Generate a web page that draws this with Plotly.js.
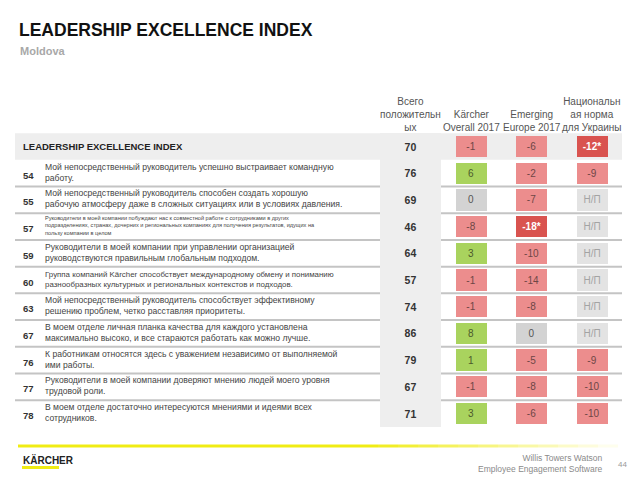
<!DOCTYPE html>
<html>
<head>
<meta charset="utf-8">
<script src="https://cdn.plot.ly/plotly-3.0.1.min.js"></script>
<style>html,body{margin:0;padding:0;background:#fff;}#chart{width:640px;height:480px;}</style>
</head>
<body>
<div id="chart"></div>
<script>
// ---------------- DATA ----------------
const rows = ['LEI', '54', '55', '57', '59', '60', '63', '67', '76', '77', '78'];
const rowLabels = [
  'LEADERSHIP EXCELLENCE INDEX',
  'Мой непосредственный руководитель успешно выстраивает командную<br>работу.',
  'Мой непосредственный руководитель способен создать хорошую<br>рабочую атмосферу даже в сложных ситуациях или в условиях давления.',
  'Руководители в моей компании побуждают нас к совместной работе с сотрудниками в других<br>подразделениях, странах, дочерних и региональных компаниях для получения результатов, идущих на<br>пользу компании в целом',
  'Руководители в моей компании при управлении организацией<br>руководствуются правильным глобальным подходом.',
  'Группа компаний Kärcher способствует международному обмену и пониманию<br>разнообразных культурных и региональных контекстов и подходов.',
  'Мой непосредственный руководитель способствует эффективному<br>решению проблем, четко расставляя приоритеты.',
  'В моем отделе личная планка качества для каждого установлена<br>максимально высоко, и все стараются работать как можно лучше.',
  'К работникам относятся здесь с уважением независимо от выполняемой<br>ими работы.',
  'Руководители в моей компании доверяют мнению людей моего уровня<br>трудовой роли.',
  'В моем отделе достаточно интересуются мнениями и идеями всех<br>сотрудников.'
];
const totalPositive = [70, 76, 69, 46, 64, 57, 74, 86, 79, 67, 71];
const kaercherDiff  = ['-1', '6', '0', '-8', '3', '-1', '-1', '8', '1', '-1', '3'];
const emergingDiff  = ['-6', '-2', '-7', '-18*', '-10', '-14', '-8', '0', '-5', '-8', '-6'];
const ukraineDiff   = ['-12*', '-9', null, null, null, null, null, null, '-9', '-10', '-10'];
const columnHeaders = [
  'Всего<br>положительн<br>ых',
  'Kärcher<br>Overall 2017',
  'Emerging<br>Europe 2017',
  'Национальн<br>ая норма<br>для Украины'
];
const naLabel = 'Н/П';

// ---------------- STYLE ----------------
const FONT = 'Liberation Sans, Arial, sans-serif';
const COL_SPACING = 60.5, COL0_PX = 410.5;
const ROW_SPACING = 26.7, ROW0_PX = 146.5;
const BOX_W = 31 / COL_SPACING;
const BOX_H = 21.3 / ROW_SPACING;
const C = {
  neg: '#ec8d8d', negText: '#6e4646',
  sig: '#d9534f', sigText: '#ffffff',
  pos: '#a9d35e', posText: '#4b5a2c',
  zero: '#d3d3d3', zeroText: '#555555',
  na: '#e3e3e3', naText: '#a3a3a3',
  band: '#eeeeee'
};
const px = x => x / 640;
const py = y => 1 - y / 480;

function styleFor(label) {
  if (label === null) return {fill: C.na, txt: C.naText, text: naLabel};
  const v = parseFloat(label);
  const sig = label.indexOf('*') >= 0;
  if (sig) return {fill: C.sig, txt: C.sigText, text: '<b>' + label + '</b>'};
  if (v < 0) return {fill: C.neg, txt: C.negText, text: label};
  if (v > 0) return {fill: C.pos, txt: C.posText, text: label};
  return {fill: C.zero, txt: C.zeroText, text: label};
}

const traces = [];
// total positive column (gray band)
traces.push({
  type: 'bar', orientation: 'h', y: rows,
  x: rows.map(() => 61 / COL_SPACING), base: 0 - 61 / COL_SPACING / 2, width: 1.0,
  marker: {color: C.band, line: {width: 0}},
  text: totalPositive.map(v => '<b>' + v + '</b>'),
  textposition: 'inside', insidetextanchor: 'middle', textangle: 0,
  textfont: {family: FONT, size: 10.5, color: '#333333'},
  constraintext: 'none', hoverinfo: 'skip', showlegend: false
});
[kaercherDiff, emergingDiff, ukraineDiff].forEach((arr, k) => {
  const j = k + 1;
  const st = arr.map(styleFor);
  traces.push({
    type: 'bar', orientation: 'h', y: rows,
    x: rows.map(() => BOX_W), base: j - BOX_W / 2, width: BOX_H,
    marker: {color: st.map(s => s.fill), line: {width: 0}},
    text: st.map(s => s.text),
    textposition: 'inside', insidetextanchor: 'middle', textangle: 0,
    textfont: {family: FONT, size: 10, color: st.map(s => s.txt)},
    constraintext: 'none', hoverinfo: 'skip', showlegend: false
  });
});

const shapes = [];
// LEI row background
shapes.push({type: 'rect', layer: 'below', xref: 'paper', yref: 'y',
  x0: px(15), x1: px(622), y0: -0.5, y1: 0.5, fillcolor: C.band, line: {width: 0}});
// separators
for (let i = 1; i < rows.length - 1; i++) {
  shapes.push({type: 'line', layer: 'below', xref: 'paper', yref: 'y',
    x0: px(15), x1: px(622), y0: i + 0.5, y1: i + 0.5, line: {color: '#c4c4c4', width: 2}});
}
// footer yellow gradient line
const segN = 30;
for (let s = 0; s < segN; s++) {
  const a = s < 18 ? 1 : 1 - (s - 17) / (segN - 17);
  shapes.push({type: 'line', xref: 'paper', yref: 'paper',
    x0: px(18 + s * 20), x1: px(18 + (s + 1) * 20), y0: py(446), y1: py(446),
    line: {color: 'rgba(240,236,20,' + a.toFixed(2) + ')', width: 3}});
}
// logo underline
shapes.push({type: 'rect', xref: 'paper', yref: 'paper',
  x0: px(22), x1: px(59), y0: py(469), y1: py(466), fillcolor: '#f0ec14', line: {width: 0}});

const annotations = [];
annotations.push({xref: 'paper', yref: 'paper', x: px(17), y: py(30), xanchor: 'left', yanchor: 'middle',
  text: '<b>LEADERSHIP EXCELLENCE INDEX</b>', showarrow: false, font: {family: FONT, size: 17.5, color: '#111111'}});
annotations.push({xref: 'paper', yref: 'paper', x: px(18), y: py(51), xanchor: 'left', yanchor: 'middle',
  text: '<b>Moldova</b>', showarrow: false, font: {family: FONT, size: 11, color: '#a8a8a8'}});
columnHeaders.forEach((h, j) => {
  annotations.push({xref: 'x', yref: 'paper', x: j, y: py(134.5), xanchor: 'center', yanchor: 'bottom',
    text: h, showarrow: false, align: 'center', font: {family: FONT, size: 10, color: '#555555'}});
});
rows.forEach((r, i) => {
  if (i === 0) {
    annotations.push({xref: 'paper', yref: 'y', x: px(21), y: i, xanchor: 'left', yanchor: 'middle',
      text: '<b>' + rowLabels[i] + '</b>', showarrow: false, font: {family: FONT, size: 9.5, color: '#222222'}});
    return;
  }
  annotations.push({xref: 'paper', yref: 'y', x: px(28), y: i, xanchor: 'center', yanchor: 'middle', yshift: -2,
    text: '<b>' + r + '</b>', showarrow: false, font: {family: FONT, size: 9.5, color: '#333333'}});
  const fs = r === '57' ? 5.6 : (r === '60' ? 7.9 : 8.6);
  annotations.push({xref: 'paper', yref: 'y', x: px(43), y: i, xanchor: 'left', yanchor: 'middle', yshift: 1,
    text: rowLabels[i], showarrow: false, align: 'left', font: {family: FONT, size: fs, color: '#444444'}});
});
annotations.push({xref: 'paper', yref: 'paper', x: px(21), y: py(460), xanchor: 'left', yanchor: 'middle',
  text: '<b>KÄRCHER</b>', showarrow: false, font: {family: FONT, size: 10, color: '#222222'}});
annotations.push({xref: 'paper', yref: 'paper', x: px(605), y: py(463), xanchor: 'right', yanchor: 'middle',
  text: 'Willis Towers Watson<br>Employee Engagement Software', align: 'right', showarrow: false,
  font: {family: FONT, size: 8.5, color: '#8a8a8a'}});
annotations.push({xref: 'paper', yref: 'paper', x: px(622), y: py(464), xanchor: 'center', yanchor: 'middle',
  text: '44', showarrow: false, font: {family: FONT, size: 8, color: '#9a9a9a'}});

const layout = {
  width: 640, height: 480,
  margin: {l: 0, r: 0, t: 0, b: 0, pad: 0},
  paper_bgcolor: '#ffffff', plot_bgcolor: 'rgba(0,0,0,0)',
  barmode: 'overlay', bargap: 0, showlegend: false,
  xaxis: {range: [-COL0_PX / COL_SPACING, (640 - COL0_PX) / COL_SPACING], visible: false, fixedrange: true},
  yaxis: {type: 'category', categoryorder: 'array', categoryarray: rows,
    range: [(480 - ROW0_PX) / ROW_SPACING, -ROW0_PX / ROW_SPACING], visible: false, fixedrange: true},
  shapes: shapes, annotations: annotations,
  font: {family: FONT}
};
Plotly.newPlot('chart', traces, layout, {displayModeBar: false, staticPlot: true});
</script>
</body>
</html>
